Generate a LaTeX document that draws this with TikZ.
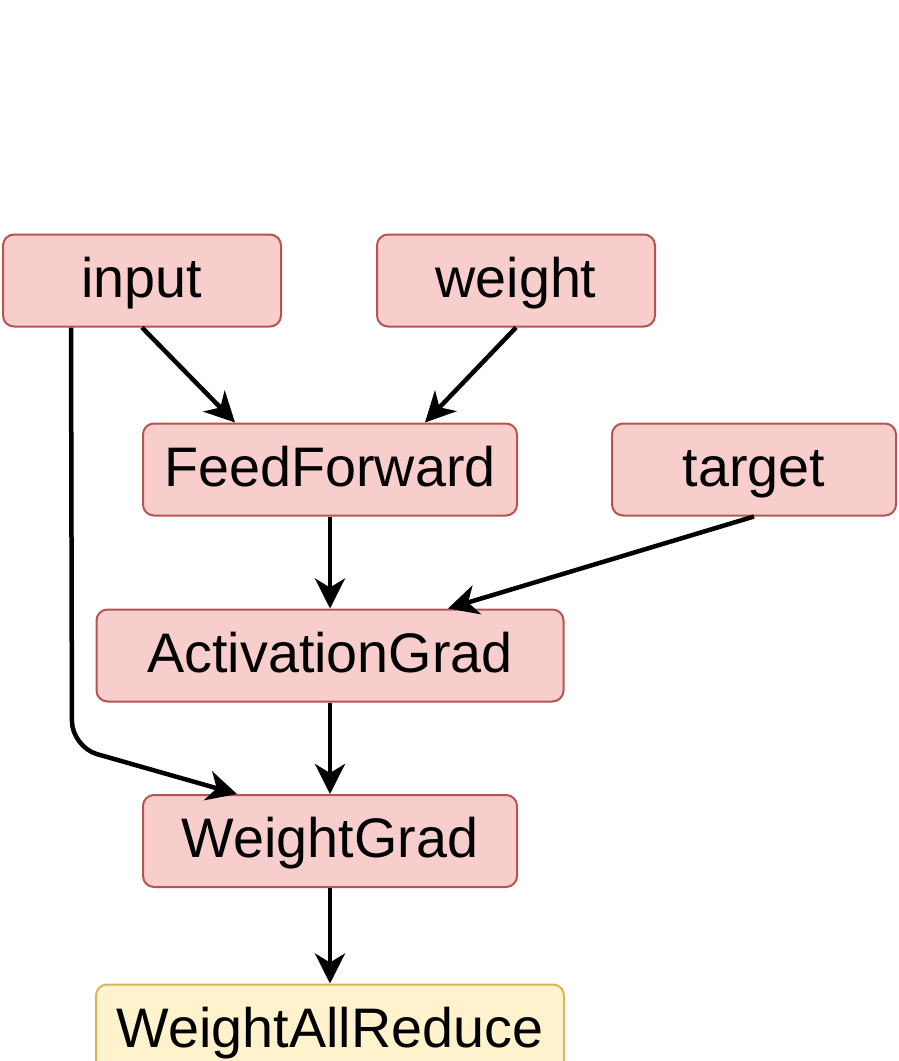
\documentclass[tikz,border=0pt]{standalone}
\usepackage{fontspec}
\setmainfont{Liberation Sans}
\usetikzlibrary{arrows.meta}
\definecolor{opfill}{HTML}{F8CECC}
\definecolor{opline}{HTML}{B85450}
\definecolor{commfill}{HTML}{FFF2CC}
\definecolor{commline}{HTML}{D6B656}
\begin{document}
\begin{tikzpicture}[x=1pt,y=-1pt,line join=round,
	font=\fontsize{55.7}{66}\selectfont,
	>={Stealth[length=30pt,width=30pt,inset=9pt]},
	opbox/.style={draw=opline,fill=opfill,line width=2pt,rounded corners=11pt,
		minimum height=92pt,inner sep=0pt,text height=44.5pt,text depth=11pt},
	commbox/.style={opbox,draw=commline,fill=commfill},
	flow/.style={->,line width=4.5pt}]
	\def \W{898};
	\def \H{1061};
	\useasboundingbox (0,0) rectangle (\W,\H);
	\clip (0,0) rectangle (\W,\H);
	\node[opbox,minimum width=278pt] (input) at (142,280.5) {input};
	\node[opbox,minimum width=278pt] (weight) at (516,280.5) {weight};
	\node[opbox,minimum width=374pt] (ff) at (330,469.5) {FeedForward};
	\node[opbox,minimum width=284pt] (target) at (754,469.5) {target};
	\node[opbox,minimum width=467pt] (agrad) at (330,655.5) {ActivationGrad};
	\node[opbox,minimum width=374pt] (wgrad) at (330,841) {WeightGrad};
	\node[commbox,minimum width=468pt] (allred) at (330,1030.5) {WeightAllReduce};
	\coordinate (bend) at (72,747);
	\draw[flow] (input.south) -- ([xshift=-95pt]ff.north);
	\draw[flow] (weight.south) -- ([xshift=95pt]ff.north);
	\draw[flow] (ff.south) -- (agrad.north);
	\draw[flow] (target.south) -- ([xshift=118pt]agrad.north);
	\draw[flow,rounded corners=26pt] ([xshift=69pt]input.south west) -- (bend) -- ([xshift=-93pt]wgrad.north);
	\draw[flow] (agrad.south) -- (wgrad.north);
	\draw[flow] (wgrad.south) -- (allred.north);
\end{tikzpicture}
\end{document}
